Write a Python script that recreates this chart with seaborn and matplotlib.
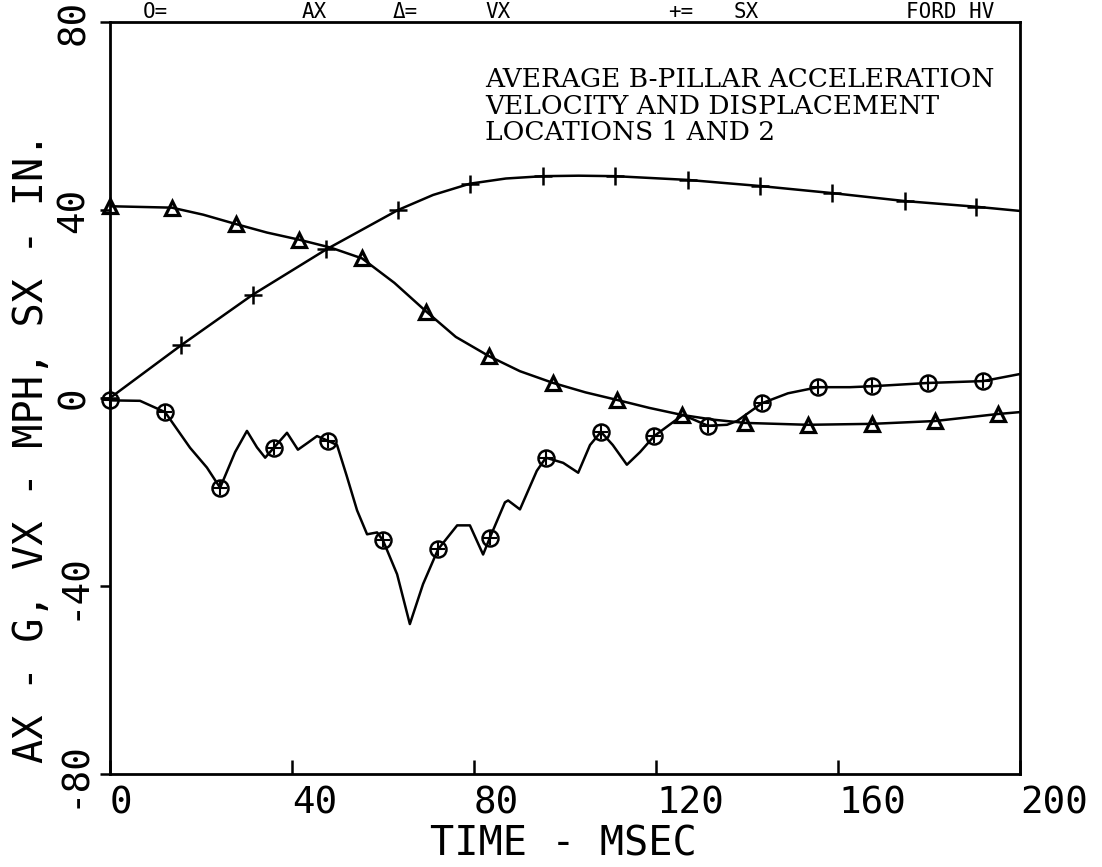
import pandas as pd
import seaborn as sns
import matplotlib.pyplot as plt

# AX - acceleration (G), circle markers
ax_time = [0, 6.6, 12.1, 17.6, 21.3, 24.2, 27.5, 30.1, 32.3, 34.1, 36.0, 38.9, 41.3, 43.5,
           45.5, 47.9, 49.9, 52.0, 54.3, 56.5, 58.7, 60.0, 63.1, 65.9, 68.8, 72.1, 76.3,
           79.1, 82.0, 83.5, 86.8, 87.5, 90.1, 93.8, 95.8, 99.6, 102.9, 105.5, 107.9,
           110.5, 113.6, 116.5, 119.6, 125.9, 131.4, 135.6, 137.8, 143.3, 149.0, 155.6,
           162.6, 167.5, 179.8, 191.9, 200]
ax_value = [-0.5, -0.6, -3.0, -10.6, -14.8, -19.1, -11.5, -7.0, -10.5, -12.7, -10.6, -7.4,
            -11.0, -9.5, -8.1, -9.1, -10.0, -16.5, -23.9, -29.0, -28.6, -30.3, -37.5, -48.1,
            -39.6, -32.2, -27.1, -27.1, -33.3, -29.7, -22.2, -21.8, -23.7, -15.5, -12.7,
            -13.8, -15.9, -10.0, -7.2, -10.0, -14.2, -11.5, -8.1, -3.6, -5.9, -5.7, -4.9,
            -1.1, 1.0, 2.3, 2.3, 2.5, 3.2, 3.6, 5.1]
ax_marked = [0, 12.1, 24.2, 36.0, 47.9, 60.0, 72.1, 83.5, 95.8, 107.9, 119.6, 131.4,
             143.3, 155.6, 167.5, 179.8, 191.9]

# VX - velocity (MPH), triangle markers
vx_time = [0, 13.6, 20.5, 27.7, 34.5, 41.5, 48.5, 55.4, 62.5, 69.5, 76.0, 83.3, 90.1, 97.4,
           104.5, 111.4, 118.5, 125.7, 132.5, 139.6, 153.4, 167.5, 181.3, 195.2, 200]
vx_value = [40.8, 40.5, 39.0, 37.0, 35.2, 33.7, 32.0, 29.7, 24.5, 18.4, 13.0, 8.9, 5.7, 3.2,
            1.2, -0.4, -2.1, -3.6, -4.6, -5.3, -5.7, -5.5, -4.9, -3.4, -3.0]
vx_marked = [0, 13.6, 27.7, 41.5, 55.4, 69.5, 83.3, 97.4, 111.4, 125.7, 139.6, 153.4,
             167.5, 181.3, 195.2]

# SX - displacement (IN), plus markers
sx_time = [0, 15.6, 31.4, 47.5, 63.3, 71.0, 79.1, 87.0, 95.2, 103.0, 111.0, 127.0, 142.9,
           158.7, 174.7, 190.3, 200]
sx_value = [0, 11.2, 22.0, 31.6, 40.0, 43.2, 45.6, 46.7, 47.2, 47.3, 47.2, 46.4, 45.1,
            43.6, 41.9, 40.7, 39.8]
sx_marked = [0, 15.6, 31.4, 47.5, 63.3, 79.1, 95.2, 111.0, 127.0, 142.9, 158.7, 174.7, 190.3]

x_ticks = [0, 40, 80, 120, 160, 200]
y_ticks = [-80, -40, 0, 40, 80]

sns.set_theme(style="ticks")
plt.rcParams['font.family'] = ['DejaVu Sans Mono', 'DejaVu Sans']
plt.rcParams['text.color'] = 'black'

fig = plt.figure(figsize=(11.02, 8.67), dpi=100)
ax = fig.add_axes([110 / 1102, 1 - 774 / 867, 910 / 1102, 752 / 867])

df_ax = pd.DataFrame({'t': ax_time, 'v': ax_value})
df_vx = pd.DataFrame({'t': vx_time, 'v': vx_value})
df_sx = pd.DataFrame({'t': sx_time, 'v': sx_value})

for d in (df_ax, df_vx, df_sx):
    sns.lineplot(data=d, x='t', y='v', ax=ax, color='black', linewidth=1.8, sort=False)

mk_ax = df_ax[df_ax.t.isin(ax_marked)]
mk_vx = df_vx[df_vx.t.isin(vx_marked)]
mk_sx = df_sx[df_sx.t.isin(sx_marked)]

ax.plot(mk_ax.t, mk_ax.v, ls='none', marker='o', ms=11.5, mfc='none', mec='black', mew=1.8, clip_on=False)
ax.plot(mk_ax.t, mk_ax.v, ls='none', marker='+', ms=10, mec='black', mew=1.5, clip_on=False)
ax.plot(mk_vx.t, mk_vx.v, ls='none', marker='^', ms=10.5, mfc='none', mec='black', mew=2.3, clip_on=False)
ax.plot(mk_sx.t, mk_sx.v, ls='none', marker='+', ms=13, mec='black', mew=1.8, clip_on=False)

ax.set_xlim(0, 200)
ax.set_ylim(-80, 80)
ax.set_xticks(x_ticks)
ax.set_yticks(y_ticks)
ax.set_xticklabels([str(v) for v in x_ticks], fontsize=27, ha='left')
ax.set_yticklabels([str(v) for v in y_ticks], fontsize=27, rotation=90, va='center')
ax.tick_params(axis='x', direction='in', length=10, width=1.8, pad=8, colors='black')
ax.tick_params(axis='y', direction='out', length=7, width=1.8, pad=6, colors='black')
ax.set_xlabel('')
ax.set_ylabel('')
for s in ax.spines.values():
    s.set_linewidth(2)
    s.set_color('black')

fig.text(32 / 1102, 1 - 448 / 867, 'AX - G, VX - MPH, SX - IN.', rotation=90,
         ha='center', va='center', fontsize=29, color='black')
fig.text(563 / 1102, 1 - 845 / 867, 'TIME - MSEC', ha='center', va='center', fontsize=29,
         color='black')

# header line along the top edge of the sheet
for label, xp in [('O=', 143), ('AX', 302), ('Δ=', 393), ('VX', 485), ('+=', 668),
                  ('SX', 734), ('FORD HV', 906)]:
    fig.text(xp / 1102, 1 - 18 / 867, label, ha='left', va='baseline', fontsize=15,
             color='black')

ax.text(0.412, 0.94, 'AVERAGE B-PILLAR ACCELERATION\nVELOCITY AND DISPLACEMENT\nLOCATIONS 1 AND 2',
        transform=ax.transAxes, ha='left', va='top', fontsize=19, color='black',
        family='DejaVu Serif', linespacing=1.08)

fig.savefig('out.png', dpi=100, facecolor='white')
